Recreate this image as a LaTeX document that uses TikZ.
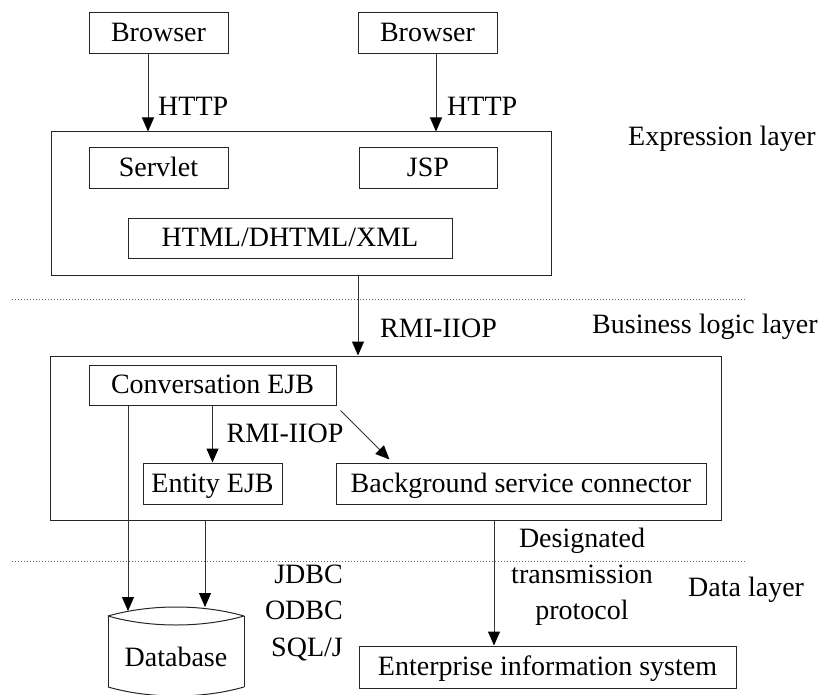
\documentclass[tikz,border=0pt]{standalone}
\usepackage{fontspec}
\setmainfont{Liberation Serif}
\usetikzlibrary{arrows.meta}
\begin{document}
\begin{tikzpicture}[x=1pt,y=-1pt,
  every node/.style={font=\fontsize{28}{34}\selectfont},
  box/.style={draw=black!85, line width=1pt, inner sep=0pt, text height=20pt, text depth=3pt},
  lbl/.style={inner sep=0pt, text height=20pt, text depth=3pt},
  arr/.style={draw=black!80, line width=1pt, -{Triangle[width=12pt,length=14pt,fill=black,color=black]}},
  sep/.style={draw=black!60, line width=0.8pt, dash pattern=on 1pt off 2pt},
  dbline/.style={draw=black!85, line width=1pt}]
\useasboundingbox (0,0) rectangle (824,695);

% layer separators
\draw[sep] (12,299) -- (745,299);
\draw[sep] (12,561) -- (745,561);

% boxes
\node[box, minimum width=139pt, minimum height=41pt] (b1) at (158.5,33.5) {Browser};
\node[box, minimum width=139pt, minimum height=41pt] (b2) at (427.5,33.5) {Browser};
\node[box, minimum width=500pt, minimum height=143pt] (expr) at (301,203.5) {};
\node[box, minimum width=139pt, minimum height=41pt] (servlet) at (158.5,168.5) {Servlet};
\node[box, minimum width=138pt, minimum height=41pt] (jsp) at (428,168.5) {JSP};
\node[box, minimum width=324pt, minimum height=40pt] (html) at (290,238) {HTML/DHTML/XML};
\node[box, minimum width=671pt, minimum height=164pt] (biz) at (385.5,438) {};
\node[box, minimum width=247pt, minimum height=40pt] (conv) at (212.5,385) {Conversation EJB};
\node[box, minimum width=139pt, minimum height=41pt] (entity) at (212.5,483.5) {Entity EJB};
\node[box, minimum width=370pt, minimum height=41pt] (bsc) at (521,483.5) {Background service connector};
\node[box, minimum width=377pt, minimum height=42pt] (eis) at (547.5,667) {Enterprise information system};

% database cylinder
\draw[dbline] (108,616) .. controls (150,604) and (202,604) .. (244,616);
\draw[dbline] (108,616) .. controls (150,628) and (202,628) .. (244,616);
\draw[dbline] (108,616) -- (108,687);
\draw[dbline] (244,616) -- (244,687);
\draw[dbline] (108,687) .. controls (150,699) and (202,699) .. (244,687);
\node[lbl] (db) at (176,658) {Database};
\coordinate (dbtop1) at (128,611);
\coordinate (dbtop2) at (205,607);

% connectors
\coordinate (h1) at ([xshift=-10.5pt]b1.south);
\draw[arr] (h1) -- (h1 |- expr.north);
\coordinate (h2) at ([xshift=8.5pt]b2.south);
\draw[arr] (h2) -- (h2 |- expr.north);
\coordinate (r1) at ([xshift=57pt]expr.south);
\draw[arr] (r1) -- (r1 |- biz.north);
\draw[arr] (conv) -- (entity);
\coordinate (d1) at ([shift={(4pt,-5pt)}]conv.south east);
\coordinate (d2) at ([shift={(54pt,3pt)}]bsc.north west);
\draw[arr] (d1) -- (d2);
\coordinate (x1) at ([xshift=-84.5pt]conv.south);
\draw[arr] (x1) -- (dbtop1);
\coordinate (x2) at ([xshift=-180.5pt]biz.south);
\draw[arr] (x2) -- (dbtop2);
\coordinate (x3) at ([xshift=108.5pt]biz.south);
\draw[arr] (x3) -- (x3 |- eis.north);

% labels
\node[lbl, anchor=west] (http1) at (158,107) {HTTP};
\node[lbl, anchor=west] (http2) at (447,107) {HTTP};
\node[lbl, anchor=west] (rmi1) at (380,329) {RMI-IIOP};
\node[lbl] (rmi2) at (285,433.5) {RMI-IIOP};
\node[lbl, anchor=east] (jdbc) at (343,574.5) {JDBC};
\node[lbl, anchor=east] (odbc) at (343,610.5) {ODBC};
\node[lbl, anchor=east] (sqlj) at (343,647.5) {SQL/J};
\node[lbl] (dtp1) at (582,538.5) {Designated};
\node[lbl] (dtp2) at (582,574.5) {transmission};
\node[lbl] (dtp3) at (582,610.5) {protocol};
\node[lbl, anchor=west] (lay1) at (628,137) {Expression layer};
\node[lbl, anchor=west] (lay2) at (592,325) {Business logic layer};
\node[lbl, anchor=west] (lay3) at (688,587.5) {Data layer};
\end{tikzpicture}
\end{document}
